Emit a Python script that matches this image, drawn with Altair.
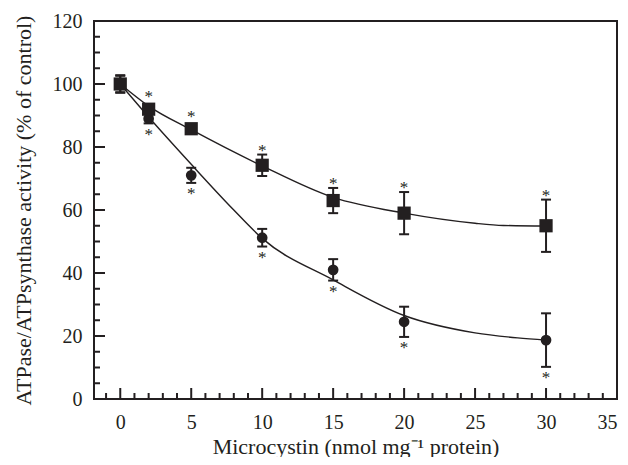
import altair as alt
import pandas as pd

INK = "#231f20"
FONT = "Liberation Serif"

# measured points
doses = [0, 2, 5, 10, 15, 20, 30]
square_mean = [100, 92, 85.8, 74.2, 63, 59, 55]
square_err = [2.6, 1.5, 1.0, 3.4, 4.0, 6.7, 8.3]
circle_mean = [100, 89, 71, 51.2, 41, 24.5, 18.7]
circle_err = [2.8, 1.5, 2.4, 2.8, 3.4, 4.8, 8.5]
significant = [False, True, True, True, True, True, True]

# fitted curves
sq_curve_x = [0, 2, 5, 10, 15, 20, 25, 27, 30]
sq_curve_y = [100, 93, 85.5, 74, 64, 59, 55.8, 55.1, 54.9]
ci_curve_x = [0, 2, 5, 8, 10, 15, 20, 25, 28, 30]
ci_curve_y = [100, 89.5, 74.5, 60, 51, 37.8, 26.5, 21, 19.4, 18.7]

x_labels = [0, 5, 10, 15, 20, 25, 30, 35]
x_minor = [v for v in range(-1, 36) if v % 5 != 0]
y_labels = [0, 20, 40, 60, 80, 100, 120]
y_minor = [v for v in range(0, 121, 5) if v % 20 != 0]

X_MIN, X_MAX = -1.85, 35
Y_MIN, Y_MAX = 0, 120
W, H = 523, 378
MAJOR_PX, MINOR_PX = 11, 6
ux = (X_MAX - X_MIN) / W   # data units per pixel
uy = (Y_MAX - Y_MIN) / H

pts = pd.DataFrame({
    "x": doses * 2,
    "mean": square_mean + circle_mean,
    "err": square_err + circle_err,
    "sig": significant * 2,
    "series": ["square"] * 7 + ["circle"] * 7,
})
pts["lo"] = pts["mean"] - pts["err"]
pts["hi"] = pts["mean"] + pts["err"]

curves = pd.DataFrame({
    "x": sq_curve_x + ci_curve_x,
    "y": sq_curve_y + ci_curve_y,
    "series": ["square"] * len(sq_curve_x) + ["circle"] * len(ci_curve_x),
})

xt = pd.DataFrame({
    "v": x_labels + x_minor,
    "e1": Y_MIN,
    "e2": [Y_MIN + MAJOR_PX * uy] * len(x_labels) + [Y_MIN + MINOR_PX * uy] * len(x_minor),
})
yt = pd.DataFrame({
    "v": y_labels + y_minor,
    "e1": X_MIN,
    "e2": [X_MIN + MAJOR_PX * ux] * len(y_labels) + [X_MIN + MINOR_PX * ux] * len(y_minor),
})

xs = alt.Scale(domain=[X_MIN, X_MAX], nice=False, zero=False)
ys = alt.Scale(domain=[Y_MIN, Y_MAX], nice=False)

common = dict(domain=False, grid=False, ticks=False, labelFont=FONT, titleFont=FONT,
              labelColor=INK, titleColor=INK, labelFontSize=20, titleFontSize=22,
              titleFontWeight="normal")
x_axis = alt.Axis(values=x_labels, labelPadding=13, title="Microcystin (nmol mg⁻¹ protein)",
                  titlePadding=4, **common)
y_axis = alt.Axis(values=y_labels, labelPadding=12,
                  title="ATPase/ATPsynthase activity (% of control)", titlePadding=17, **common)

X = lambda f: alt.X(f, scale=xs, axis=x_axis)
Y = lambda f: alt.Y(f, scale=ys, axis=y_axis)

sq_line = alt.Chart(curves).transform_filter("datum.series == 'square'").mark_line(
    color=INK, strokeWidth=1.4, interpolate="monotone").encode(x=X("x:Q"), y=Y("y:Q"))
ci_line = alt.Chart(curves).transform_filter("datum.series == 'circle'").mark_line(
    color=INK, strokeWidth=1.4, interpolate="monotone").encode(x=X("x:Q"), y=Y("y:Q"))

# inward frame ticks
xticks_layer = alt.Chart(xt).mark_rule(color=INK, strokeWidth=2).encode(
    x=X("v:Q"), y=Y("e1:Q"), y2="e2:Q")
yticks_layer = alt.Chart(yt).mark_rule(color=INK, strokeWidth=2).encode(
    y=Y("v:Q"), x=X("e1:Q"), x2="e2:Q")

stems = alt.Chart(pts).mark_rule(color=INK, strokeWidth=2).encode(
    x=X("x:Q"), y=Y("lo:Q"), y2="hi:Q")
caps_lo = alt.Chart(pts).mark_tick(color=INK, thickness=2, size=10, orient="horizontal",
                                   opacity=1).encode(x=X("x:Q"), y=Y("lo:Q"))
caps_hi = alt.Chart(pts).mark_tick(color=INK, thickness=2, size=10, orient="horizontal",
                                   opacity=1).encode(x=X("x:Q"), y=Y("hi:Q"))

circles = alt.Chart(pts).transform_filter("datum.series == 'circle'").mark_point(
    shape="circle", filled=True, color=INK, size=115, opacity=1).encode(x=X("x:Q"), y=Y("mean:Q"))
squares = alt.Chart(pts).transform_filter("datum.series == 'square'").mark_point(
    shape="square", filled=True, color=INK, size=175, opacity=1).encode(x=X("x:Q"), y=Y("mean:Q"))

stars_up = alt.Chart(pts).transform_filter(
    "datum.series == 'square' && datum.sig").transform_calculate(
    anchor="datum.mean + max(datum.err, 2.5)").mark_text(
    text="*", font=FONT, fontSize=17, color=INK, baseline="alphabetic", dy=1).encode(
    x=X("x:Q"), y=Y("anchor:Q"))
stars_dn = alt.Chart(pts).transform_filter(
    "datum.series == 'circle' && datum.sig").transform_calculate(
    anchor="datum.mean - max(datum.err, 1.8)").mark_text(
    text="*", font=FONT, fontSize=17, color=INK, baseline="alphabetic", dy=16).encode(
    x=X("x:Q"), y=Y("anchor:Q"))

chart = alt.layer(
    sq_line, ci_line, xticks_layer, yticks_layer,
    stems, caps_lo, caps_hi, circles, squares, stars_up, stars_dn
).properties(
    width=W, height=H,
    autosize=alt.AutoSizeParams(type="none"),
    padding={"left": 86, "top": 13, "right": 3, "bottom": 58},
    background="white",
).configure_view(stroke=INK, strokeWidth=2)

chart.save("out.html", embed_options={"renderer": "svg", "actions": False})
